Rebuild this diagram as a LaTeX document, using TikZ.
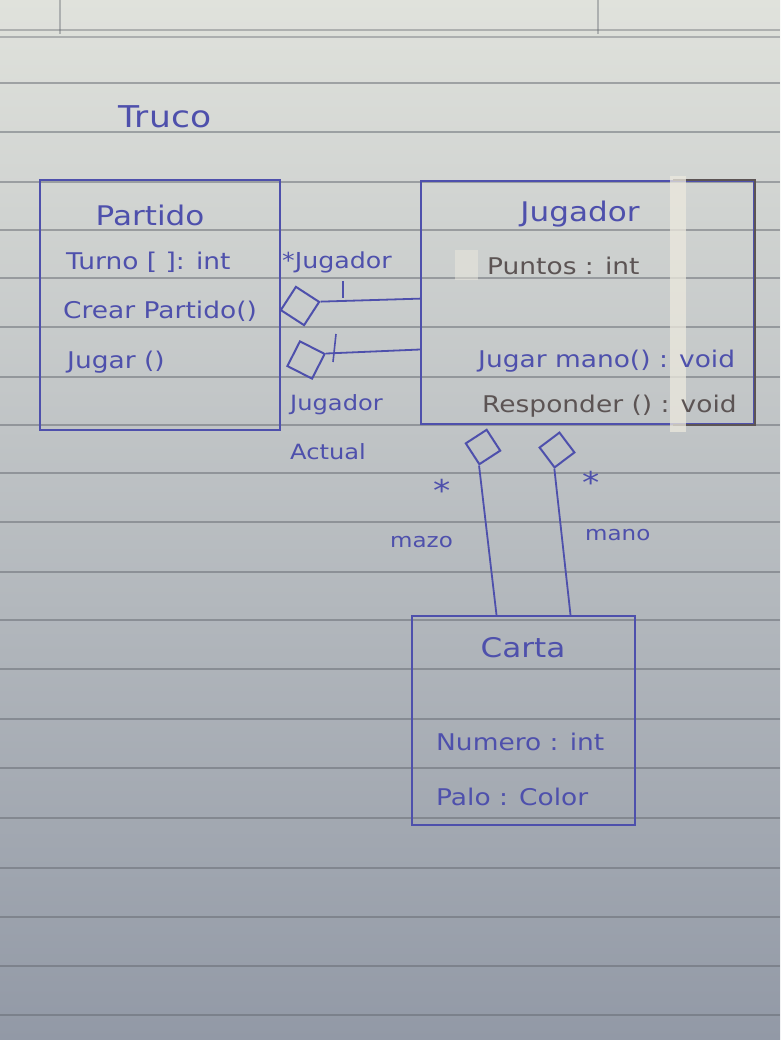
\documentclass[tikz,border=0pt]{standalone}
\usepackage{fontspec}
\setmainfont[FakeStretch=1.15]{DejaVu Sans}
\usetikzlibrary{shapes.geometric}
\definecolor{pen}{RGB}{78,80,172}
\definecolor{pencil}{RGB}{92,84,84}
\definecolor{paperTop}{RGB}{224,226,220}
\definecolor{paperMid}{RGB}{198,202,202}
\definecolor{paperBot}{RGB}{146,153,166}
\definecolor{rule}{RGB}{100,104,112}
\definecolor{tape}{RGB}{236,233,222}
\begin{document}
\begin{tikzpicture}[x=1pt,y=-1pt,
  box/.style={draw=pen, line width=2pt, inner sep=0pt},
  txt/.style={text=pen, font=\fontsize{23}{26}\selectfont, inner sep=0pt, anchor=west},
  lbl/.style={text=pen, font=\fontsize{20}{24}\selectfont, inner sep=0pt, anchor=west},
  ttl/.style={text=pen, font=\fontsize{27}{30}\selectfont, inner sep=0pt},
  gtxt/.style={txt, text=pencil},
  dia/.style={draw=pen, line width=2pt, diamond, aspect=1, minimum size=40, inner sep=0pt},
  conn/.style={draw=pen, line width=1.8pt},
  tick/.style={draw=pen, line width=1.6pt}]
\useasboundingbox (0,0) rectangle (780,1040);
% paper
\shade[top color=paperTop, middle color=paperMid, bottom color=paperBot] (0,0) rectangle (780,1040);
\foreach \y in {83,132,182,230,278,327,377,425,473,522,572,620,669,719,768,818,868,917,966,1015}
  \draw[rule, opacity=0.5, line width=1.8pt] (0,\y) -- (780,\y);
\draw[rule, opacity=0.4, line width=1.5pt] (0,30) -- (780,30);
\draw[rule, opacity=0.4, line width=1.5pt] (0,37) -- (780,37);
\draw[rule, opacity=0.4, line width=1.5pt] (60,0) -- (60,34);
\draw[rule, opacity=0.4, line width=1.5pt] (598,0) -- (598,34);

% title
\node[ttl, font=\fontsize{30}{34}\selectfont] (truco) at (165,117) {Truco};

% Partido
\node[box, minimum width=240, minimum height=250] (partido) at (160,305) {};
\node[ttl] (ptitle) at (150,215) {Partido};
\node[txt] (p1) at (66,262) {Turno [ ]: int};
\node[txt] (p2) at (63,311) {Crear Partido()};
\node[txt] (p3) at (67,362) {Jugar ()};

% Jugador
\node[box, minimum width=333, minimum height=243] (jugador) at (587.5,302.5) {};
\draw[pencil, line width=2pt] ([xshift=-82]jugador.north east) -- (jugador.north east) -- (jugador.south east) -- ([xshift=-82]jugador.south east);
\fill[tape, opacity=0.75] (670,176) rectangle (686,432);
\fill[tape, opacity=0.5] (455,250) rectangle (478,280);
\node[ttl] (jtitle) at (580,214) {Jugador};
\node[gtxt] (j1) at (487,266) {Puntos : int};
\node[txt] (j2) at (478,361) {Jugar mano() : void};
\node[gtxt] (j3) at (482,406) {Responder () : void};

% Carta
\node[box, minimum width=223, minimum height=209] (carta) at (523.5,720.5) {};
\node[ttl] (ctitle) at (523,648) {Carta};
\node[txt] (c1) at (436,742) {Numero : int};
\node[txt] (c2) at (436,797) {Palo : Color};

% associations Partido - Jugador
\node[dia, rotate=12] (d1) at (300,306) {};
\node[dia, rotate=18] (d2) at (306,360) {};
\draw[conn] (d1.east) -- ([yshift=3]d1.east -| jugador.west);
\draw[conn] (d2.east) -- ([yshift=4]d2.east -| jugador.west);
\coordinate (t1a) at (343,281);
\coordinate (t1b) at (343,298);
\draw[tick] (t1a) -- (t1b);
\coordinate (t2a) at (336,334);
\coordinate (t2b) at (333,362);
\draw[tick] (t2a) -- (t2b);
\node[lbl, font=\fontsize{22}{26}\selectfont] (l1) at (282,262) {*Jugador};
\node[lbl, font=\fontsize{21}{26}\selectfont] (l2) at (290,405) {Jugador};
\node[lbl, font=\fontsize{21}{26}\selectfont] (l3) at (290,452) {Actual};

% associations Jugador - Carta
\node[dia, rotate=-12, minimum size=36] (d3) at (483,447) {};
\node[dia, rotate=-8, minimum size=36] (d4) at (557,450) {};
\draw[conn] (d3.south) -- ([xshift=-27]carta.north);
\draw[conn] (d4.south) -- ([xshift=47]carta.north);
\node[txt, font=\fontsize{30}{30}\selectfont] (s1) at (433,490) {*};
\node[txt, font=\fontsize{30}{30}\selectfont] (s2) at (582,482) {*};
\node[lbl, font=\fontsize{20}{24}\selectfont] (m1) at (390,542) {mazo};
\node[lbl, font=\fontsize{20}{24}\selectfont] (m2) at (585,535) {mano};
\end{tikzpicture}
\end{document}
